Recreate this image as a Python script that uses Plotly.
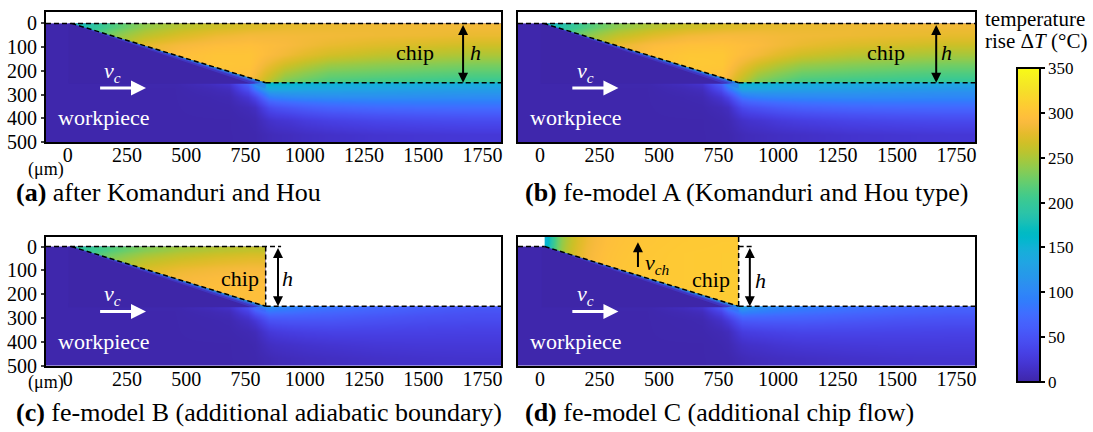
import plotly.graph_objects as go

# ---------------- colour map (MATLAB parula, 64 entries) ----------------
PARULA_RGB = [
    (.2422, .1504, .6603), (.2504, .1650, .7076), (.2578, .1818, .7511), (.2647, .1978, .7952),
    (.2706, .2147, .8364), (.2751, .2342, .8710), (.2783, .2559, .8991), (.2803, .2782, .9221),
    (.2813, .3006, .9414), (.2810, .3228, .9579), (.2795, .3447, .9717), (.2760, .3667, .9829),
    (.2699, .3892, .9906), (.2602, .4123, .9952), (.2440, .4358, .9988), (.2206, .4603, .9973),
    (.1963, .4847, .9892), (.1834, .5074, .9798), (.1786, .5289, .9682), (.1764, .5499, .9520),
    (.1687, .5703, .9359), (.1540, .5902, .9218), (.1460, .6091, .9079), (.1380, .6276, .8973),
    (.1248, .6459, .8883), (.1113, .6635, .8763), (.0952, .6798, .8598), (.0689, .6948, .8394),
    (.0297, .7082, .8163), (.0036, .7203, .7917), (.0067, .7312, .7660), (.0433, .7411, .7394),
    (.0964, .7500, .7120), (.1408, .7584, .6842), (.1717, .7670, .6554), (.1938, .7758, .6251),
    (.2161, .7843, .5923), (.2470, .7918, .5567), (.2906, .7973, .5188), (.3406, .8008, .4789),
    (.3909, .8029, .4354), (.4456, .8024, .3909), (.5044, .7993, .3480), (.5616, .7942, .3045),
    (.6174, .7876, .2612), (.6720, .7793, .2227), (.7242, .7698, .1910), (.7738, .7598, .1646),
    (.8203, .7498, .1535), (.8634, .7406, .1596), (.9035, .7330, .1774), (.9393, .7288, .2100),
    (.9728, .7298, .2394), (.9956, .7434, .2371), (.9970, .7659, .2199), (.9952, .7893, .2028),
    (.9892, .8136, .1885), (.9786, .8386, .1766), (.9676, .8639, .1643), (.9610, .8890, .1537),
    (.9597, .9135, .1423), (.9628, .9373, .1265), (.9691, .9606, .1064), (.9769, .9839, .0805),
]


def rgb(c, a=None):
    r, g, b = (round(v * 255) for v in c)
    return f"rgba({r},{g},{b},{a})" if a is not None else f"rgb({r},{g},{b})"


PARULA = [[i / (len(PARULA_RGB) - 1), rgb(c)] for i, c in enumerate(PARULA_RGB)]

# ---------------- data ----------------
X_TICKS = [0, 250, 500, 750, 1000, 1250, 1500, 1750]
Y_TICKS = [0, 100, 200, 300, 400, 500]
CBAR_TICKS = [0, 50, 100, 150, 200, 250, 300, 350]
T_MIN, T_MAX = 0, 350

# workpiece temperature field: cell edges (um) and temperature rise (degC)
WP_X = [-100, 300, 600, 760, 820, 880, 1000, 1200, 1400, 1600, 1840]
WP_Y = [0, 150, 240, 260, 290, 330, 380, 440, 500]

WP_A = [
    [2, 2, 2, 2, 2, 2, 2, 2, 2, 2],
    [2, 2, 3, 5, 165, 160, 155, 152, 150, 148],
    [2, 3, 20, 120, 165, 160, 155, 152, 150, 148],
    [2, 2, 10, 85, 140, 138, 134, 131, 128, 126],
    [2, 2, 5, 38, 90, 102, 107, 108, 107, 106],
    [2, 2, 3, 12, 42, 54, 66, 72, 74, 75],
    [2, 2, 2, 5, 16, 22, 32, 38, 41, 43],
    [2, 2, 2, 3, 7, 10, 15, 19, 21, 23],
]
WP_B = [
    [2, 2, 2, 2, 2, 2, 2, 2, 2, 2],
    [2, 2, 3, 5, 160, 155, 150, 146, 143, 140],
    [2, 3, 20, 115, 160, 155, 150, 146, 143, 140],
    [2, 2, 10, 80, 134, 133, 128, 125, 121, 118],
    [2, 2, 5, 35, 84, 97, 101, 103, 102, 100],
    [2, 2, 3, 11, 40, 52, 63, 68, 70, 71],
    [2, 2, 2, 5, 15, 21, 30, 36, 39, 41],
    [2, 2, 2, 3, 7, 10, 14, 18, 20, 22],
]
WP_C = [
    [2, 2, 2, 2, 2, 2, 2, 2, 2, 2],
    [2, 2, 3, 5, 115, 100, 88, 75, 65, 58],
    [2, 3, 18, 90, 115, 100, 88, 75, 65, 58],
    [2, 2, 8, 55, 82, 78, 70, 62, 55, 50],
    [2, 2, 4, 22, 48, 52, 52, 48, 44, 42],
    [2, 2, 3, 8, 24, 30, 34, 34, 33, 32],
    [2, 2, 2, 4, 12, 16, 20, 23, 24, 24],
    [2, 2, 2, 3, 6, 9, 12, 15, 17, 18],
]
WP_D = [
    [2, 2, 2, 2, 2, 2, 2, 2, 2, 2],
    [2, 2, 3, 5, 135, 112, 96, 85, 75, 70],
    [2, 3, 20, 105, 135, 112, 96, 85, 75, 70],
    [2, 2, 9, 60, 95, 88, 80, 72, 65, 60],
    [2, 2, 4, 25, 55, 58, 58, 54, 50, 48],
    [2, 2, 3, 9, 28, 33, 37, 37, 36, 35],
    [2, 2, 2, 5, 14, 18, 23, 25, 26, 26],
    [2, 2, 2, 3, 7, 10, 13, 16, 18, 19],
]

# chip temperature fields
CHIP_AB_X = [15, 120, 250, 400, 550, 700, 835, 1000, 1200, 1400, 1600, 1840]
CHIP_AB_Y = [0, 30, 70, 110, 150, 190, 225, 250]
CHIP_A = [
    [180, 212, 240, 255, 265, 272, 278, 281, 283, 284, 285],
    [195, 235, 258, 272, 282, 287, 287, 285, 283, 282, 280],
    [200, 240, 278, 288, 294, 296, 290, 280, 274, 270, 266],
    [200, 240, 280, 296, 301, 301, 285, 268, 260, 255, 251],
    [200, 240, 280, 296, 302, 301, 268, 246, 240, 236, 232],
    [200, 240, 280, 296, 301, 297, 250, 228, 224, 220, 217],
    [200, 240, 280, 296, 300, 292, 235, 215, 210, 207, 204],
]
CHIP_B = [
    [178, 210, 238, 254, 264, 271, 277, 280, 282, 283, 284],
    [195, 236, 260, 275, 285, 289, 288, 284, 282, 280, 278],
    [200, 242, 280, 292, 298, 299, 292, 280, 272, 268, 264],
    [200, 242, 282, 298, 304, 304, 286, 266, 257, 252, 248],
    [200, 242, 282, 298, 305, 304, 268, 244, 237, 233, 229],
    [200, 242, 282, 298, 304, 300, 250, 226, 221, 217, 214],
    [200, 242, 282, 298, 303, 295, 235, 212, 207, 204, 201],
]
CHIP_C_X = [15, 120, 250, 400, 550, 700, 835]
CHIP_C_Y = [0, 30, 70, 110, 150, 190, 225, 250]
CHIP_C = [
    [195, 215, 235, 248, 255, 260],
    [210, 235, 255, 265, 272, 276],
    [215, 245, 270, 280, 285, 288],
    [215, 245, 275, 288, 292, 293],
    [215, 245, 275, 290, 295, 295],
    [215, 245, 275, 290, 296, 296],
    [215, 245, 275, 290, 296, 296],
]
CHIP_D_X = [20, 40, 70, 110, 160, 230, 330, 500, 700, 835]
CHIP_D_Y = [-50, 0, 50, 100, 150, 200, 250]
CHIP_D = [
    [155, 200, 238, 262, 282, 295, 302, 305, 306],
    [165, 208, 243, 266, 285, 297, 303, 306, 307],
    [175, 215, 248, 270, 288, 298, 304, 306, 307],
    [180, 220, 252, 273, 290, 299, 304, 306, 307],
    [180, 220, 252, 273, 290, 299, 304, 306, 307],
    [180, 220, 252, 273, 290, 299, 304, 306, 307],
]

TITLES = {
    "a": "<b>(a)</b> after Komanduri and Hou",
    "b": "<b>(b)</b> fe-model A (Komanduri and Hou type)",
    "c": "<b>(c)</b> fe-model B (additional adiabatic boundary)",
    "d": "<b>(d)</b> fe-model C (additional chip flow)",
}

# ---------------- geometry / style ----------------
W, H = 1093, 432
SERIF = "Liberation Serif"
TIP_X = {"a": 15, "b": 15, "c": 15, "d": 20}
SHEAR_END_X = 835
CHIP_H = 250
X_RANGE = [-92, 1828]
AX = {"a": ("x", "y"), "b": ("x2", "y2"), "c": ("x3", "y3"), "d": ("x4", "y4")}
COL_PX = {"a": (46, 501), "b": (518, 975), "c": (46, 501), "d": (518, 975)}
ROW_PX = {"a": (12, 142), "b": (12, 142), "c": (237, 366), "d": (237, 366)}
Y_RANGE = {"a": [500, -48], "b": [500, -48], "c": [500, -40], "d": [500, -40]}
# fringe just under the shear plane: (start thickness, end thickness, parula index, alpha)
FRINGE = [(4, 24, 10, 0.3), (3, 15, 16, 0.35), (2, 9, 22, 0.4), (1, 5, 28, 0.45)]

fig = go.Figure()


def heat(key, xe, ye, z):
    xa, ya = AX[key]
    fig.add_trace(go.Heatmap(x=xe, y=ye, z=z, zsmooth="best", coloraxis="coloraxis",
                             xaxis=xa, yaxis=ya, hoverinfo="skip"))


def poly(key, xs, ys, color):
    xa, ya = AX[key]
    fig.add_trace(go.Scatter(x=xs, y=ys, mode="lines", fill="toself", fillcolor=color,
                             line=dict(width=0), xaxis=xa, yaxis=ya, hoverinfo="skip",
                             showlegend=False))


def dashed(key, segs):
    xa, ya = AX[key]
    xs, ys = [], []
    for (x0, y0), (x1, y1) in segs:
        xs += [x0, x1, None]
        ys += [y0, y1, None]
    fig.add_trace(go.Scatter(x=xs, y=ys, mode="lines", line=dict(color="black", width=1.5, dash="5px,3px"),
                             xaxis=xa, yaxis=ya, hoverinfo="skip", showlegend=False))


fields = {
    "a": (WP_A, CHIP_AB_X, CHIP_AB_Y, CHIP_A),
    "b": (WP_B, CHIP_AB_X, CHIP_AB_Y, CHIP_B),
    "c": (WP_C, CHIP_C_X, CHIP_C_Y, CHIP_C),
    "d": (WP_D, CHIP_D_X, CHIP_D_Y, CHIP_D),
}

for key, (wp, cx, cy, cz) in fields.items():
    tip = TIP_X[key]
    heat(key, WP_X, WP_Y, wp)
    heat(key, cx, cy, cz)
    # workpiece below the shear plane (covers the chip field there)
    poly(key, [tip, SHEAR_END_X, 780, tip - 12, tip - 12, tip],
         [0, CHIP_H, CHIP_H + 4, CHIP_H + 4, 0, 0], rgb(PARULA_RGB[0]))
    for t0, t1, ci, al in FRINGE:
        poly(key, [tip, SHEAR_END_X, SHEAR_END_X, tip, tip],
             [0, CHIP_H, CHIP_H + t1, t0, 0], rgb(PARULA_RGB[ci], al))
    if key in ("c", "d"):
        poly(key, [SHEAR_END_X, 1900, 1900, SHEAR_END_X, SHEAR_END_X],
             [-60, -60, CHIP_H, CHIP_H, -60], "white")

shear = lambda k: ((TIP_X[k], 0), (SHEAR_END_X, CHIP_H))
dashed("a", [((X_RANGE[0], 0), (X_RANGE[1], 0)), shear("a"), ((SHEAR_END_X, CHIP_H), (X_RANGE[1], CHIP_H))])
dashed("b", [((X_RANGE[0], 0), (X_RANGE[1], 0)), shear("b"), ((SHEAR_END_X, CHIP_H), (X_RANGE[1], CHIP_H))])
dashed("c", [((X_RANGE[0], 0), (900, 0)), shear("c"), ((SHEAR_END_X, 0), (SHEAR_END_X, CHIP_H)),
             ((SHEAR_END_X, CHIP_H), (X_RANGE[1], CHIP_H))])
dashed("d", [((X_RANGE[0], 0), (TIP_X["d"], 0)), shear("d"), ((SHEAR_END_X, -40), (SHEAR_END_X, CHIP_H)),
             ((SHEAR_END_X, 0), (900, 0)), ((SHEAR_END_X, CHIP_H), (X_RANGE[1], CHIP_H))])

# ---------------- annotations ----------------
ann = []


def text(key, x, y, s, size=22, color="black"):
    xa, ya = AX[key]
    ann.append(dict(x=x, y=y, xref=xa, yref=ya, text=s, showarrow=False,
                    font=dict(size=size, color=color, family=SERIF)))


def arrow(key, x0, y0, x1, y1, color, width, size=1.0, both=False):
    xa, ya = AX[key]
    d = dict(x=x1, y=y1, ax=x0, ay=y0, xref=xa, yref=ya, axref=xa, ayref=ya, text="",
             showarrow=True, arrowcolor=color, arrowwidth=width, arrowhead=2, arrowsize=size, standoff=0)
    if both:
        d.update(arrowside="end+start", startarrowhead=2, startarrowsize=size, startstandoff=0)
    ann.append(d)


VC = "<i>v</i><sub><i>c</i></sub>"
for key in "abcd":
    text(key, 152, 398, "workpiece", 22, "white")
    text(key, 190, 203, VC, 22, "white")
    arrow(key, 130, 272, 330, 272, "white", 3, 1.0)

text("a", 1465, 123, "chip"); text("a", 1719, 123, "<i>h</i>")
arrow("a", 1668, 0, 1668, CHIP_H, "black", 2, 1.0, True)
text("b", 1455, 123, "chip"); text("b", 1708, 123, "<i>h</i>")
arrow("b", 1665, 0, 1665, CHIP_H, "black", 2, 1.0, True)
text("c", 726, 132, "chip"); text("c", 929, 132, "<i>h</i>")
arrow("c", 887, 0, 887, CHIP_H, "black", 2, 1.0, True)
text("d", 719, 139, "chip"); text("d", 928, 141, "<i>h</i>")
arrow("d", 882, 0, 882, CHIP_H, "black", 2, 1.0, True)
arrow("d", 412, 92, 412, -18, "black", 2, 1.0)
text("d", 495, 75, "<i>v</i><sub><i>ch</i></sub>")

for key, (px, py) in {"a": (14, 192), "b": (523, 192), "c": (14, 412), "d": (523, 412)}.items():
    ann.append(dict(x=px / W, y=1 - py / H, xref="paper", yref="paper", xanchor="left", yanchor="middle",
                    text=TITLES[key], showarrow=False, font=dict(size=26, family=SERIF, color="black")))
for py in (169, 394):
    ann.append(dict(x=27 / W, y=1 - py / H, xref="paper", yref="paper", text="(μm)", showarrow=False,
                    borderpad=0, font=dict(size=18, family=SERIF, color="black")))
ann.append(dict(x=983 / W, y=1 - 19 / H, xref="paper", yref="paper", xanchor="left", yanchor="middle",
                text="temperature", showarrow=False, font=dict(size=21, family=SERIF, color="black")))
ann.append(dict(x=983 / W, y=1 - 41 / H, xref="paper", yref="paper", xanchor="left", yanchor="middle",
                text="rise Δ<i>T</i> (°C)", showarrow=False, font=dict(size=21, family=SERIF, color="black")))

# ---------------- layout ----------------
layout = dict(
    width=W, height=H, margin=dict(l=0, r=0, t=0, b=0, autoexpand=False),
    paper_bgcolor="white", plot_bgcolor="white", showlegend=False,
    font=dict(family=SERIF, color="black"),
    annotations=ann,
    coloraxis=dict(
        cmin=T_MIN, cmax=T_MAX, colorscale=PARULA,
        colorbar=dict(x=1017 / W, xanchor="left", y=1 - 382 / H, yanchor="bottom", len=314 / H,
                      lenmode="fraction", thickness=23, thicknessmode="pixels", xpad=0, ypad=0,
                      outlinewidth=2, outlinecolor="black", tickvals=CBAR_TICKS, ticks="outside",
                      ticklen=4, tickwidth=2, tickcolor="black",
                      tickfont=dict(family=SERIF, size=17, color="black")),
    ),
)
for key, (xa, ya) in AX.items():
    xn = "xaxis" + xa[1:]
    yn = "yaxis" + ya[1:]
    c0, c1 = COL_PX[key]
    r0, r1 = ROW_PX[key]
    left = key in ("a", "c")
    layout[xn] = dict(domain=[c0 / W, c1 / W], anchor=ya, range=X_RANGE, tickvals=X_TICKS,
                      ticks="", showline=True, mirror=True, ticklabelstandoff=-6,
                      linewidth=2, linecolor="black", showgrid=False, zeroline=False,
                      tickfont=dict(size=20, family=SERIF, color="black"))
    layout[yn] = dict(domain=[1 - r1 / H, 1 - r0 / H], anchor=xa, range=Y_RANGE[key], tickvals=Y_TICKS,
                      ticks="outside" if left else "", ticklen=3, tickwidth=1.5, showticklabels=left,
                      showline=True, mirror=True, linewidth=2, linecolor="black", showgrid=False,
                      zeroline=False,
                      tickfont=dict(size=20, family=SERIF, color="black"))

fig.update_layout(**layout)
fig.write_html("out.html")
